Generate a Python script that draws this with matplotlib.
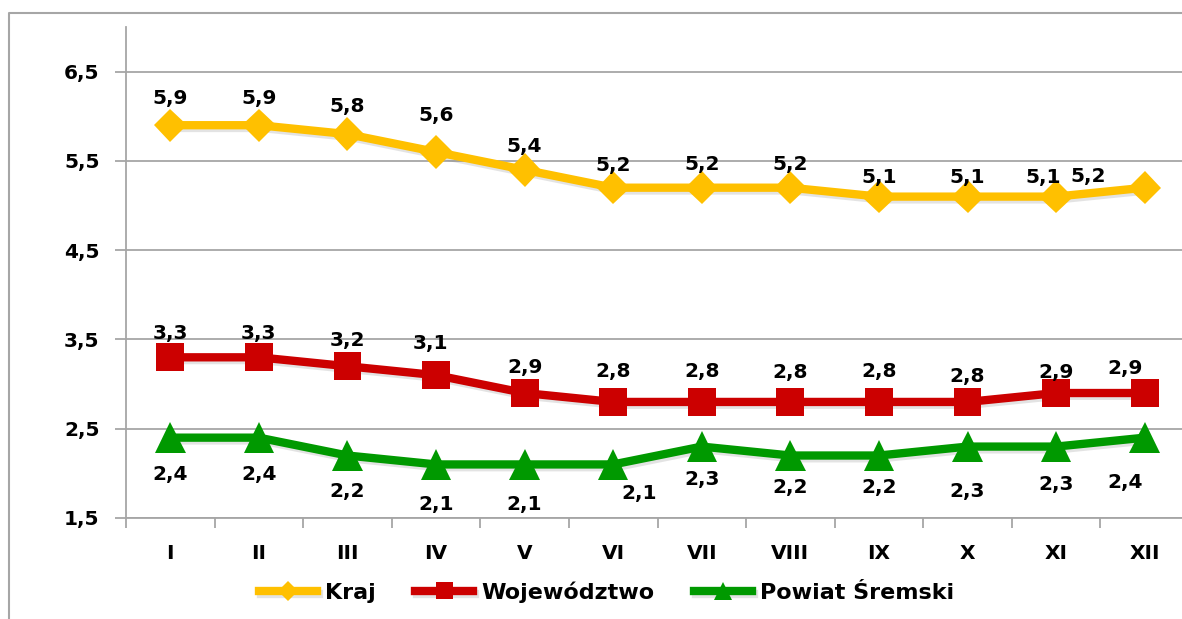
import matplotlib.pyplot as plt
import matplotlib.patheffects as pe
from matplotlib.lines import Line2D

# months and values
months = ['I', 'II', 'III', 'IV', 'V', 'VI', 'VII', 'VIII', 'IX', 'X', 'XI', 'XII']
kraj = [5.9, 5.9, 5.8, 5.6, 5.4, 5.2, 5.2, 5.2, 5.1, 5.1, 5.1, 5.2]
woj = [3.3, 3.3, 3.2, 3.1, 2.9, 2.8, 2.8, 2.8, 2.8, 2.8, 2.9, 2.9]
powiat = [2.4, 2.4, 2.2, 2.1, 2.1, 2.1, 2.3, 2.2, 2.2, 2.3, 2.3, 2.4]
yticks = [1.5, 2.5, 3.5, 4.5, 5.5, 6.5]

plt.rcParams['font.family'] = ['DejaVu Sans']
plt.rcParams['font.weight'] = 'bold'

fig = plt.figure(figsize=(11.82, 6.19), dpi=100)
# outer frame of the chart, only left and top edges are visible (cropped)
fx = 8.5 / 1182
fy = 1 - 13 / 619
fig.add_artist(Line2D([fx, fx, 1.0], [0.0, fy, fy], transform=fig.transFigure,
                      color='#a6a6a6', lw=1.5))

# plot area is cut by the right edge of the picture
cat_w = 1063 / 12  # px per category
ax = fig.add_axes([126 / 1182, 101 / 619, 1056 / 1182, 491 / 619])
x = list(range(len(months)))

shadow = [pe.SimpleLineShadow(offset=(1.5, -2), shadow_color='#777777', alpha=0.2),
          pe.Normal()]

l1, = ax.plot(x, kraj, color='#FFC000', lw=6, marker='D', ms=17,
              markeredgewidth=0, label='Kraj', zorder=3, path_effects=shadow)
l2, = ax.plot(x, woj, color='#CC0000', lw=6, marker='s', ms=20,
              markeredgewidth=0, label='Województwo', zorder=3, path_effects=shadow)
l3, = ax.plot(x, powiat, color='#009900', lw=6, marker='^', ms=22,
              markeredgewidth=0, label='Powiat Śremski', zorder=3, path_effects=shadow)

def fmt(v):
    return f'{v:.1f}'.replace('.', ',')

lab_kw = dict(textcoords='offset points', ha='center', va='center',
              fontsize=14.5, fontweight='bold', color='black')

# label offsets (points)
kraj_dx = [0, 0, 0, 0, 0, 0, 0, 0, 0, 0, -9, -41]
kraj_dy = [19.5, 19.5, 20, 26, 16.5, 16, 16.5, 16.5, 13.7, 13.7, 13.7, 8]
for i, v in enumerate(kraj):
    ax.annotate(fmt(v), (x[i], v), xytext=(kraj_dx[i], kraj_dy[i]), **lab_kw)

woj_dx = [0, 0, 0, -4, 0, 0, 0, 0, 0, 0, 0, -14]
woj_dy = [17, 17, 18.7, 23, 18.7, 21.6, 21.6, 21.5, 21.6, 18, 15, 18]
for i, v in enumerate(woj):
    ax.annotate(fmt(v), (x[i], v), xytext=(woj_dx[i], woj_dy[i]), **lab_kw)

pow_dx = [0, 0, 0, 0, 0, 19, 0, 0, 0, 0, 0, -14]
pow_dy = [-26.6, -26.6, -26, -29, -29, -21, -24, -23, -23, -32, -27, -32]
for i, v in enumerate(powiat):
    ax.annotate(fmt(v), (x[i], v), xytext=(pow_dx[i], pow_dy[i]), **lab_kw)

ax.set_xlim(-0.5, -0.5 + 1056 / cat_w)
ax.set_ylim(1.5, 7.0)
ax.set_yticks(yticks)
ax.set_yticklabels([fmt(v) for v in yticks])
ax.set_xticks(x)
ax.set_xticklabels(months)
ax.set_xticks([i - 0.5 for i in range(12)], minor=True)

ax.grid(axis='y', color='#a6a6a6', lw=1.3)
ax.set_axisbelow(True)
for s in ['top', 'right']:
    ax.spines[s].set_visible(False)
ax.spines['left'].set_color('#a6a6a6')
ax.spines['bottom'].set_color('#a6a6a6')
ax.spines['left'].set_linewidth(1.3)
ax.spines['bottom'].set_linewidth(1.3)

ax.tick_params(axis='y', length=8, color='#a6a6a6', width=1.3, labelsize=14.5, pad=11)
ax.tick_params(axis='x', which='major', length=0, labelsize=14.5, pad=19)
ax.tick_params(axis='x', which='minor', length=7, color='#a6a6a6', width=1.3)
for t in ax.get_xticklabels() + ax.get_yticklabels():
    t.set_fontweight('bold')

leg = fig.legend(handles=[l1, l2, l3], loc='center', ncol=3,
                 bbox_to_anchor=(0.513, 0.044), frameon=False,
                 prop={'size': 16, 'weight': 'bold'}, handlelength=2.6,
                 handletextpad=0.35, columnspacing=1.8, markerscale=0.6)

fig.savefig('out.png', dpi=100)
